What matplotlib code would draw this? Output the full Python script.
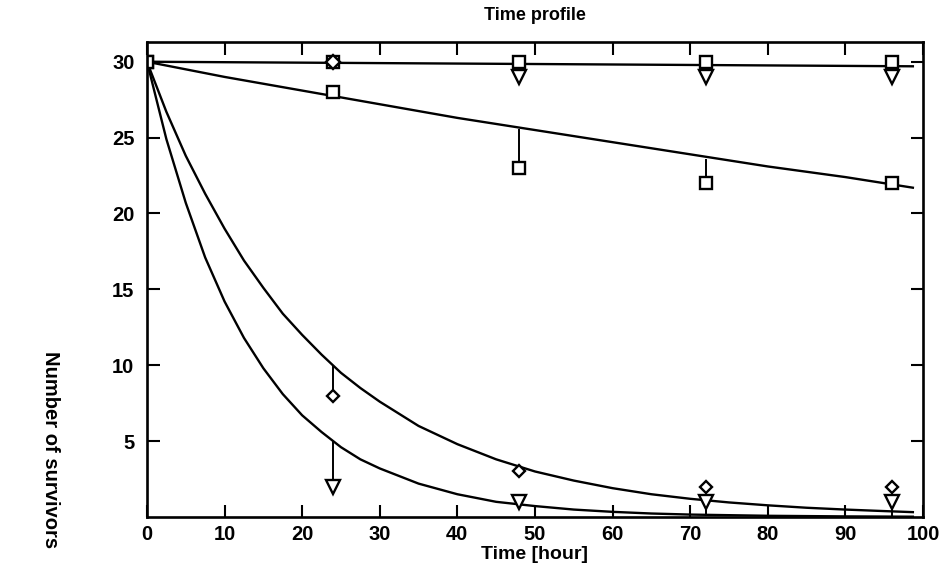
import numpy as np
import matplotlib
matplotlib.use('Agg')
from matplotlib import pyplot as plt

plt.rcParams['font.family'] = ['Liberation Sans', 'DejaVu Sans']
plt.rcParams['font.weight'] = 'bold'

# sampling times [hour]
t = [0, 24, 48, 72, 96]

# observed survivors
top_sq = [30, 30, 30, 30, 30]
top_tri = [np.nan, np.nan, 29, 29, 29]
top_dia = [np.nan, 30, np.nan, np.nan, np.nan]
sq_b = [30, 28, 23, 22, 22]
dia_c = [30, 8, 3, 2, 2]
tri_d = [30, 2, 1, 1, 1]

# fitted values at the sampling times
fit_b_t = [30, 27.8, 25.6, 23.6, 21.9]
fit_c_t = [30, 10.0, 3.3, 1.1, 0.37]
fit_d_t = [30, 5.0, 0.83, 0.14, 0.02]

# fitted curves
xa = [0, 50, 98.7]
ya = [30, 29.85, 29.7]
xb = [0, 10, 20, 30, 40, 50, 60, 70, 80, 90, 98.7]
yb = [30, 29.0, 28.1, 27.2, 26.3, 25.5, 24.7, 23.9, 23.1, 22.4, 21.7]
xc = [0, 2.5, 5, 7.5, 10, 12.5, 15, 17.5, 20, 22.5, 25, 27.5, 30, 35, 40, 45, 50, 55, 60, 65, 70, 75, 80, 85, 90, 95, 98.7]
yc = [30, 26.7, 23.8, 21.3, 19.0, 16.9, 15.1, 13.4, 12.0, 10.7, 9.5, 8.5, 7.6, 6.0, 4.8, 3.8, 3.0, 2.4, 1.9, 1.5, 1.2, 0.96, 0.77, 0.61, 0.49, 0.39, 0.32]
xd = [0, 2.5, 5, 7.5, 10, 12.5, 15, 17.5, 20, 22.5, 25, 27.5, 30, 35, 40, 45, 50, 55, 60, 65, 70, 80, 90, 98.7]
yd = [30, 24.9, 20.7, 17.1, 14.2, 11.8, 9.8, 8.1, 6.7, 5.6, 4.6, 3.8, 3.2, 2.2, 1.5, 1.0, 0.72, 0.49, 0.34, 0.23, 0.16, 0.08, 0.04, 0.02]

fig = plt.figure(figsize=(9.44, 5.74), dpi=100)
ax = fig.add_axes([0.1557, 0.0993, 0.822, 0.8275])

lw = 1.7
for xs, ys in [(xa, ya), (xb, yb), (xc, yc), (xd, yd)]:
    ax.plot(xs, ys, color='black', lw=lw)

# residual lines
ax.vlines(t[2:], [29, 29, 29], top_sq[2:], color='black', lw=1.4)
ax.vlines(t, sq_b, fit_b_t, color='black', lw=1.4)
ax.vlines(t, dia_c, fit_c_t, color='black', lw=1.4)
ax.vlines(t, tri_d, fit_d_t, color='black', lw=1.4)

mk = dict(color='black', mfc='white', mew=1.7, ls='none')
ax.plot(t, top_sq, marker='s', ms=8.5, **mk)
ax.plot(t, top_dia, marker='D', ms=7, **mk)
ax.plot(t, top_tri, marker='v', ms=9.5, **mk)
ax.plot(t, sq_b, marker='s', ms=8.5, **mk)
ax.plot(t[1:], dia_c[1:], marker='D', ms=6.5, **mk)
ax.plot(t[1:], tri_d[1:], marker='v', ms=9.5, **mk)

ax.set_xlim(0, 100)
ax.set_ylim(0, 31.3)
ax.set_xticks(range(0, 101, 10))
ax.set_yticks([5, 10, 15, 20, 25, 30])
ax.tick_params(direction='in', length=9, width=1.5, top=True, right=True,
               labelsize=14.5, pad=6)
ax.tick_params(axis='y', pad=9)
for s in ax.spines.values():
    s.set_linewidth(1.9)

ax.set_title('Time profile', fontsize=13, fontweight='bold', pad=16)
ax.set_xlabel('Time [hour]', fontsize=14, fontweight='bold', labelpad=1)
fig.text(50 / 944, 1 - 450 / 574, 'Number of survivors', rotation=270,
         ha='center', va='center', fontsize=14.5, fontweight='bold')

fig.savefig('out.png', dpi=100)
